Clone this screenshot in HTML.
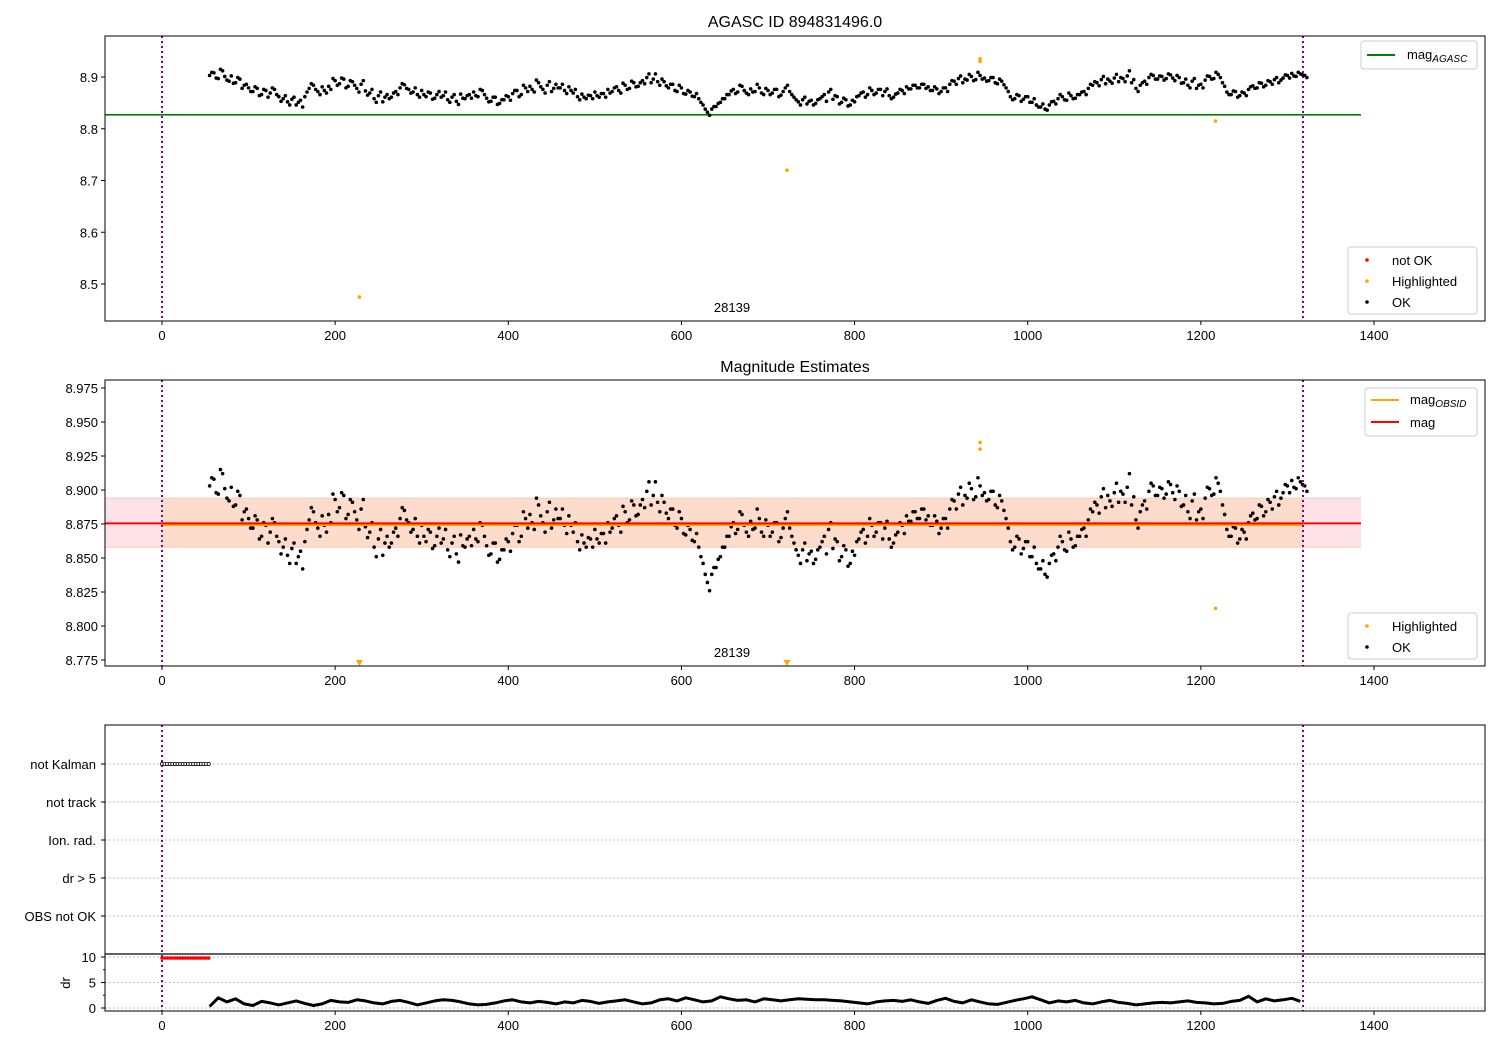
<!DOCTYPE html>
<html><head><meta charset="utf-8"><style>
body{margin:0;background:#fff}
svg{font-family:"Liberation Sans","DejaVu Sans",sans-serif}
</style></head><body>
<svg id="fig" width="1500" height="1050" viewBox="0 0 1500 1050" xmlns="http://www.w3.org/2000/svg"></svg>
<script>
const T0 = 55, DT = 5, T0B = 57.5;
const magValues = [
8.903,8.908,8.897,8.912,8.894,8.902,8.889,8.896,8.884,8.879,
8.872,8.878,8.866,8.874,8.869,8.876,8.862,8.858,8.852,8.857,
8.846,8.855,8.862,8.878,8.884,8.872,8.881,8.869,8.876,8.893,
8.887,8.896,8.882,8.891,8.878,8.886,8.873,8.869,8.858,8.864,
8.852,8.866,8.861,8.872,8.879,8.885,8.876,8.871,8.866,8.874,
8.862,8.869,8.859,8.872,8.864,8.856,8.861,8.853,8.867,8.858,
8.866,8.871,8.862,8.874,8.859,8.853,8.861,8.849,8.856,8.862,
8.868,8.874,8.866,8.879,8.882,8.871,8.889,8.876,8.884,8.872,
8.886,8.879,8.874,8.881,8.869,8.862,8.867,8.858,8.864,8.871,
8.861,8.868,8.876,8.872,8.881,8.869,8.884,8.878,8.889,8.882,
8.893,8.899,8.889,8.906,8.884,8.891,8.879,8.886,8.872,8.879,
8.867,8.871,8.862,8.858,8.846,8.832,8.838,8.843,8.851,8.858,
8.866,8.876,8.871,8.882,8.869,8.877,8.872,8.879,8.866,8.874,
8.869,8.876,8.865,8.879,8.872,8.861,8.852,8.856,8.848,8.855,
8.849,8.858,8.866,8.871,8.857,8.862,8.851,8.856,8.846,8.852,
8.864,8.871,8.866,8.874,8.869,8.876,8.872,8.864,8.861,8.869,
8.874,8.881,8.877,8.884,8.879,8.886,8.881,8.874,8.877,8.872,
8.879,8.886,8.892,8.897,8.889,8.894,8.901,8.895,8.903,8.898,
8.893,8.899,8.887,8.892,8.879,8.862,8.858,8.864,8.857,8.862,
8.851,8.846,8.842,8.838,8.846,8.853,8.858,8.862,8.855,8.864,
8.859,8.866,8.872,8.878,8.884,8.889,8.895,8.887,8.892,8.898,
8.891,8.897,8.902,8.889,8.878,8.884,8.892,8.899,8.903,8.896,
8.901,8.897,8.904,8.893,8.899,8.889,8.884,8.892,8.878,8.886,
8.894,8.901,8.897,8.905,8.889,8.871,8.866,8.872,8.864,8.869,
8.876,8.883,8.879,8.888,8.884,8.891,8.895,8.889,8.898,8.903,
8.907,8.901,8.906,8.903];
const magValuesB = [
8.909,8.898,8.915,8.901,8.892,8.888,8.899,8.878,8.886,8.872,
8.881,8.864,8.876,8.861,8.879,8.866,8.853,8.864,8.846,8.861,
8.851,8.842,8.871,8.887,8.876,8.866,8.874,8.882,8.897,8.884,
8.898,8.879,8.893,8.884,8.871,8.893,8.865,8.876,8.851,8.871,
8.861,8.858,8.869,8.866,8.887,8.878,8.869,8.879,8.861,8.866,
8.871,8.857,8.866,8.861,8.871,8.851,8.866,8.847,8.859,8.864,
8.859,8.864,8.876,8.866,8.852,8.861,8.847,8.856,8.864,8.855,
8.874,8.862,8.884,8.872,8.876,8.894,8.881,8.869,8.891,8.878,
8.879,8.886,8.868,8.874,8.876,8.856,8.861,8.865,8.858,8.864,
8.868,8.861,8.869,8.879,8.874,8.888,8.876,8.892,8.881,8.889,
8.887,8.906,8.896,8.891,8.896,8.883,8.886,8.874,8.884,8.868,
8.874,8.863,8.868,8.851,8.838,8.826,8.843,8.849,8.858,8.866,
8.873,8.868,8.884,8.874,8.866,8.871,8.886,8.869,8.878,8.866,
8.876,8.862,8.872,8.884,8.866,8.856,8.846,8.861,8.853,8.846,
8.856,8.862,8.853,8.876,8.864,8.848,8.859,8.844,8.855,8.862,
8.869,8.861,8.879,8.866,8.876,8.864,8.877,8.858,8.867,8.876,
8.868,8.877,8.884,8.879,8.886,8.878,8.874,8.881,8.868,8.879,
8.872,8.893,8.886,8.902,8.896,8.905,8.893,8.909,8.896,8.892,
8.899,8.889,8.896,8.885,8.872,8.856,8.866,8.853,8.862,8.851,
8.858,8.842,8.848,8.836,8.852,8.848,8.866,8.856,8.869,8.858,
8.866,8.871,8.866,8.886,8.891,8.883,8.901,8.896,8.888,8.905,
8.899,8.891,8.912,8.895,8.872,8.889,8.886,8.905,8.896,8.902,
8.894,8.906,8.898,8.903,8.888,8.896,8.879,8.897,8.884,8.879,
8.902,8.896,8.909,8.899,8.882,8.866,8.873,8.861,8.871,8.864,
8.881,8.878,8.889,8.881,8.893,8.886,8.899,8.894,8.904,8.898,
8.902,8.909,8.904,8.899];
const hlTimesTop = [228, 722, 945, 945, 1217];
const hlValuesTop = [8.475, 8.72, 8.93, 8.935, 8.815];
const hlTimesMid = [945, 945, 1217];
const hlValuesMid = [8.93, 8.935, 8.813];
const offTimesMid = [228, 722];
const magAgasc = 8.827;
const magObsid = 8.875;
const magMean = 8.8755;
const bandLow = 8.858, bandHigh = 8.894;
const obsStart = 0, obsEnd = 1318;
const xTicks = [0,200,400,600,800,1000,1200,1400];
const topYTicks = [8.5,8.6,8.7,8.8,8.9];
const midYTicks = [8.775,8.8,8.825,8.85,8.875,8.9,8.925,8.95,8.975];
const flagLabels = ["not Kalman","not track","Ion. rad.","dr > 5","OBS not OK"];
const notKalmanTimes = [0,3,6,9,12,15,18,21,24,27,30,33,36,39,42,45,48,51,54];
const drT0 = 55, drDT = 10;
const drValues = [0.3,2.0,1.2,1.8,0.8,0.5,1.3,1.0,0.6,1.0,1.4,0.9,0.5,0.8,1.5,1.2,1.1,1.6,1.4,1.0,
0.8,1.3,1.5,1.1,0.6,1.0,1.4,1.6,1.5,1.2,0.8,0.6,0.7,1.0,1.4,1.6,1.2,1.0,1.3,1.1,
0.8,1.2,1.0,1.5,1.3,0.9,1.2,1.4,1.6,1.2,0.8,1.0,1.6,1.8,1.4,2.0,1.6,1.2,1.4,2.2,
1.8,1.5,1.6,1.2,1.8,1.6,1.4,1.6,1.8,1.7,1.6,1.6,1.5,1.4,1.2,1.0,0.8,1.2,1.4,1.5,
1.3,1.6,1.2,0.9,1.5,1.9,1.3,1.0,1.6,1.2,0.8,0.7,1.1,1.5,1.8,2.2,1.6,1.0,1.4,1.2,
1.5,1.0,0.8,1.2,1.5,1.1,0.9,0.6,0.8,1.0,1.1,1.0,1.2,1.4,1.1,1.0,0.8,0.9,1.3,1.5,
2.3,1.2,1.8,1.4,1.6,1.9,1.3];
const drTicks = [0,5,10];

const NS = "http://www.w3.org/2000/svg";
const svg = document.getElementById('fig');
function el(tag, attrs, parent, txt){
  const e = document.createElementNS(NS, tag);
  for (const k in attrs) e.setAttribute(k, attrs[k]);
  if (txt !== undefined) e.textContent = txt;
  (parent || svg).appendChild(e);
  return e;
}
const L = 105, R = 1485;
const xs = t => 162 + t * (1212/1400);
function topY(v){ return 77 + (8.9 - v) * 517.5; }
function midY(v){ return 388 + (8.975 - v) * 1360; }
function flagY(i){ return 764 + i * 38; }
function drY(v){ return 1008 - v * 5.1; }

function xAxis(bottom, g){
  xTicks.forEach(t=>{
    el('line',{x1:xs(t),x2:xs(t),y1:bottom,y2:bottom+4,stroke:'#000'},g);
    const lb = el('text',{x:xs(t),y:bottom+19,'text-anchor':'middle','font-size':13},g,String(t));
    
    
  });
}
function frame(top,bottom,g,name){
  const r = el('rect',{x:L,y:top,width:R-L,height:bottom-top,fill:'none',stroke:'#000','stroke-width':1},g);
  
  
}
function vlines(top,bottom,g){
  [obsStart,obsEnd].forEach(t=>{
    const l = el('line',{x1:xs(t),x2:xs(t),y1:top,y2:bottom,stroke:'#800080','stroke-width':2,'stroke-dasharray':'2,3'},g);
    
    
  });
}
function legendBox(x,y,w,h,g,name){
  const b = el('rect',{x:x,y:y,width:w,height:h,rx:3,fill:'#fff','fill-opacity':0.8,stroke:'#ccc'},g);
  
  
}
function drawPoints(g, yfn){
  magValues.forEach((v,i)=>{
    const c = el('circle',{cx:xs(T0+i*DT),cy:yfn(v),r:1.8,fill:'#000'},g);
    
    
  });
  magValuesB.forEach((v,i)=>{
    const c = el('circle',{cx:xs(T0B+i*DT),cy:yfn(v),r:1.8,fill:'#000'},g);
    
    
  });
}

// ===== TOP PANEL =====
const gTop = el('g',{});


el('text',{x:795,y:27,'text-anchor':'middle','font-size':16},gTop,'AGASC ID 894831496.0');
topYTicks.forEach(v=>{
  el('line',{x1:L-4,x2:L,y1:topY(v),y2:topY(v),stroke:'#000'},gTop);
  const t = el('text',{x:L-7,y:topY(v)+5,'text-anchor':'end','font-size':13},gTop,v.toFixed(1));
  
  
});
xAxis(321,gTop);
const ag = el('line',{x1:L,x2:xs(1385),y1:topY(magAgasc),y2:topY(magAgasc),stroke:'#008000','stroke-width':1.6},gTop);


vlines(36,321,gTop);
drawPoints(gTop, topY);
hlTimesTop.forEach((t,i)=>{
  const c = el('circle',{cx:xs(t),cy:topY(hlValuesTop[i]),r:1.8,fill:'orange'},gTop);
  
  
});
el('text',{x:732,y:312,'text-anchor':'middle','font-size':13},gTop,'28139');
legendBox(1361,41,116,28,gTop,'legend-agasc');
el('line',{x1:1367,x2:1395,y1:55,y2:55,stroke:'#008000','stroke-width':2},gTop);
const lt = el('text',{x:1407,y:59,'font-size':13},gTop);
lt.innerHTML = 'mag<tspan font-size="10" font-style="italic" dy="3">AGASC</tspan>';
legendBox(1348,247,129,67,gTop,'legend-status');
[['not OK','red',260],['Highlighted','orange',281],['OK','#000',302]].forEach(a=>{
  el('circle',{cx:1367,cy:a[2],r:1.8,fill:a[1]},gTop);
  const t = el('text',{x:1392,y:a[2]+5,'font-size':13},gTop,a[0]);
  
  
});
frame(36,321,gTop,'top-axes');

// ===== MIDDLE PANEL =====
const gMid = el('g',{});


el('text',{x:795,y:372,'text-anchor':'middle','font-size':16},gMid,'Magnitude Estimates');
const band1 = el('rect',{x:L,y:midY(bandHigh),width:xs(1385)-L,height:midY(bandLow)-midY(bandHigh),fill:'#fde3e7'},gMid);


const band2 = el('rect',{x:xs(obsStart),y:midY(bandHigh),width:xs(obsEnd)-xs(obsStart),height:midY(bandLow)-midY(bandHigh),fill:'#fddccc'},gMid);


el('line',{x1:L,x2:xs(1385),y1:midY(bandHigh),y2:midY(bandHigh),stroke:'#f8c8b8','stroke-width':1},gMid);
el('line',{x1:L,x2:xs(1385),y1:midY(bandLow),y2:midY(bandLow),stroke:'#f8c8b8','stroke-width':1},gMid);
midYTicks.forEach(v=>{
  el('line',{x1:L-4,x2:L,y1:midY(v),y2:midY(v),stroke:'#000'},gMid);
  const t = el('text',{x:L-7,y:midY(v)+5,'text-anchor':'end','font-size':13},gMid,v.toFixed(3));
  
  
});
xAxis(666,gMid);
drawPoints(gMid, midY);
const ob = el('line',{x1:xs(obsStart),x2:xs(obsEnd),y1:midY(magObsid)+1,y2:midY(magObsid)+1,stroke:'orange','stroke-width':2},gMid);


const mm = el('line',{x1:L,x2:xs(1385),y1:midY(magMean),y2:midY(magMean),stroke:'red','stroke-width':2},gMid);


vlines(380,666,gMid);
hlTimesMid.forEach((t,i)=>{
  const c = el('circle',{cx:xs(t),cy:midY(hlValuesMid[i]),r:1.8,fill:'orange'},gMid);
  
  
});
offTimesMid.forEach(t=>{
  const x = xs(t);
  const p = el('path',{d:`M${x-3.5},660 L${x+3.5},660 L${x},666 Z`,fill:'orange'},gMid);
  
  
});
el('text',{x:732,y:657,'text-anchor':'middle','font-size':13},gMid,'28139');
legendBox(1365,388,112,48,gMid,'legend-mag');
el('line',{x1:1371,x2:1399,y1:400,y2:400,stroke:'orange','stroke-width':2},gMid);
const lm = el('text',{x:1410,y:404,'font-size':13},gMid);
lm.innerHTML = 'mag<tspan font-size="10" font-style="italic" dy="3">OBSID</tspan>';
el('line',{x1:1371,x2:1399,y1:422,y2:422,stroke:'red','stroke-width':2},gMid);
el('text',{x:1410,y:427,'font-size':13},gMid,'mag');
legendBox(1348,613,129,46,gMid,'legend-status-mid');
[['Highlighted','orange',626],['OK','#000',647]].forEach(a=>{
  el('circle',{cx:1367,cy:a[2],r:1.8,fill:a[1]},gMid);
  const t = el('text',{x:1392,y:a[2]+5,'font-size':13},gMid,a[0]);
  
  
});
frame(380,666,gMid,'middle-axes');

// ===== BOTTOM PANEL =====
const gBot = el('g',{});


flagLabels.forEach((lab,i)=>{
  el('line',{x1:L,x2:R,y1:flagY(i),y2:flagY(i),stroke:'#aaa','stroke-dasharray':'1.5,2.5'},gBot);
  el('line',{x1:L-4,x2:L,y1:flagY(i),y2:flagY(i),stroke:'#000'},gBot);
  const t = el('text',{x:L-9,y:flagY(i)+5,'text-anchor':'end','font-size':13},gBot,lab);
  
  
});
drTicks.forEach(v=>{
  el('line',{x1:L,x2:R,y1:drY(v),y2:drY(v),stroke:'#aaa','stroke-dasharray':'1.5,2.5'},gBot);
  el('line',{x1:L-4,x2:L,y1:drY(v),y2:drY(v),stroke:'#000'},gBot);
  const t = el('text',{x:L-9,y:drY(v)+5,'text-anchor':'end','font-size':13},gBot,String(v));
  
  
});
[2.5,7.5].forEach(v=>el('line',{x1:L-2,x2:L,y1:drY(v),y2:drY(v),stroke:'#000'},gBot));
const dl = el('text',{x:70,y:983,'text-anchor':'middle','font-size':13,transform:'rotate(-90 70 983)'},gBot,'dr');


xAxis(1011,gBot);
vlines(725,1011,gBot);
notKalmanTimes.forEach(t=>{
  const c = el('circle',{cx:xs(t),cy:flagY(0),r:1.6,fill:'#fff',stroke:'#000','stroke-width':0.8},gBot);
  
  
  const c2 = el('circle',{cx:xs(t),cy:drY(9.8),r:1.8,fill:'red'},gBot);
  
  
});
let d = '';
drValues.forEach((v,i)=>{ d += (i?'L':'M') + xs(drT0+i*drDT).toFixed(1) + ',' + drY(v).toFixed(1); });
const dp = el('path',{d:d,fill:'none',stroke:'#000','stroke-width':3,'stroke-linejoin':'round'},gBot);


el('line',{x1:L,x2:R,y1:954,y2:954,stroke:'#000','stroke-width':1.2},gBot);
frame(725,1011,gBot,'bottom-axes');
</script>
</body></html>
